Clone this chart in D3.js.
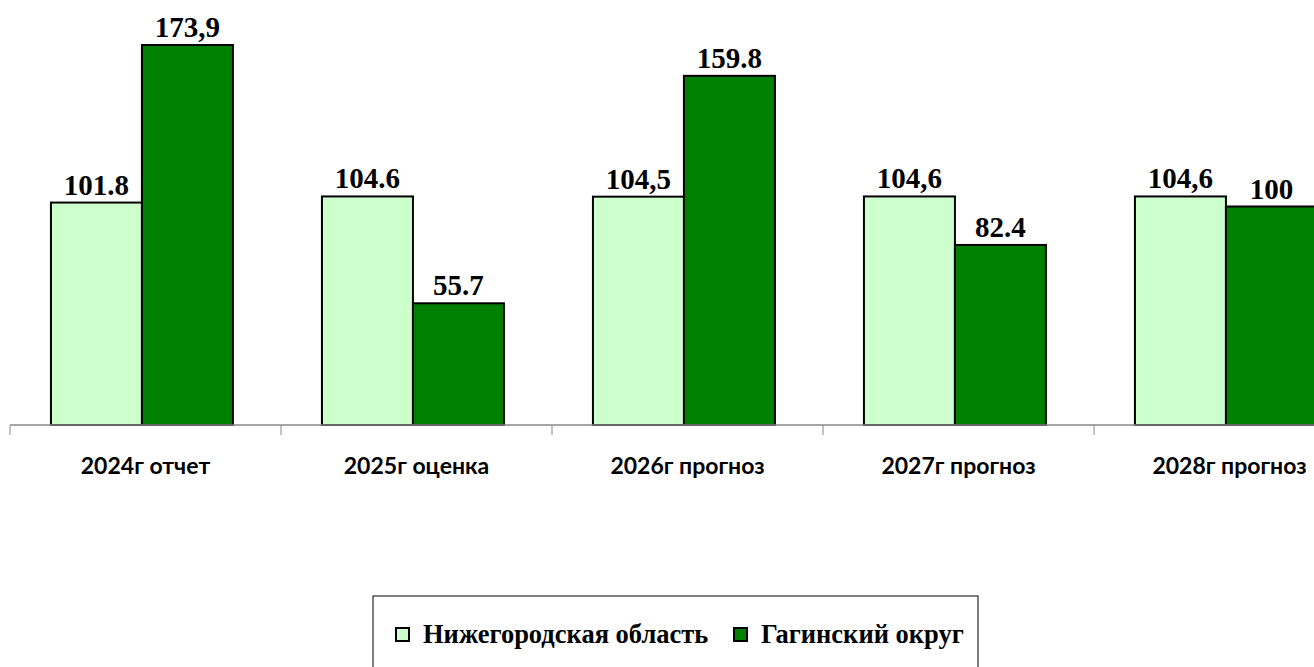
<!DOCTYPE html>
<html>
<head>
<meta charset="utf-8">
<script src="https://cdn.jsdelivr.net/npm/d3@7"></script>
<style>
  body { margin: 0; background: #fff; }
  svg { display: block; }
</style>
</head>
<body>
<svg id="chart"></svg>
<script>
// data
const categories = ['2024г отчет', '2025г оценка', '2026г прогноз', '2027г прогноз', '2028г прогноз'];
const seriesNames = ['Нижегородская область', 'Гагинский округ'];
const regionValues = [101.8, 104.6, 104.5, 104.6, 104.6];
const districtValues = [173.9, 55.7, 159.8, 82.4, 100];
// labels as printed (mix of commas and points in the original)
const regionLabels = ['101.8', '104.6', '104,5', '104,6', '104,6'];
const districtLabels = ['173,9', '55.7', '159.8', '82.4', '100'];

const colors = ['#ccffcc', '#008000'];

const width = 1314, height = 667;
const baseY = 425;

const svg = d3.select('#chart')
  .attr('width', width)
  .attr('height', height);

const x = d3.scaleBand()
  .domain(categories)
  .range([10, 10 + 271 * categories.length])
  .paddingInner(0).paddingOuter(0);

const xSub = d3.scaleBand()
  .domain(seriesNames)
  .range([0, x.bandwidth()])
  .paddingOuter(0.489)
  .align(0.46);

const y = d3.scaleLinear()
  .domain([0, 180])
  .range([baseY, baseY - 180 * 2.185]);

let data = [];
categories.forEach((c, i) => {
  data.push({ cat: c, series: seriesNames[0], value: regionValues[i], label: regionLabels[i], color: colors[0] });
  data.push({ cat: c, series: seriesNames[1], value: districtValues[i], label: districtLabels[i], color: colors[1] });
});

// bars
svg.append('g')
  .selectAll('rect')
  .data(data)
  .enter().append('rect')
    .attr('x', d => x(d.cat) + xSub(d.series))
    .attr('y', d => y(d.value))
    .attr('width', xSub.bandwidth())
    .attr('height', d => baseY - y(d.value))
    .attr('fill', d => d.color)
    .attr('stroke', '#000')
    .attr('stroke-width', 2);

// value labels
svg.append('g')
  .selectAll('text')
  .data(data)
  .enter().append('text')
    .attr('x', d => x(d.cat) + xSub(d.series) + xSub.bandwidth() / 2)
    .attr('y', d => y(d.value) - 8)
    .attr('text-anchor', 'middle')
    .style('font-family', '"Liberation Serif", "Times New Roman", serif')
    .style('font-weight', 'bold')
    .style('font-size', '29px')
    .text(d => d.label);

// category axis with ticks at band edges
const axisG = svg.append('g');
axisG.append('line')
  .attr('x1', x.range()[0]).attr('x2', x.range()[1])
  .attr('y1', baseY).attr('y2', baseY)
  .attr('stroke', '#888').attr('stroke-width', 1.5);

axisG.selectAll('.tick')
  .data(categories)
  .enter().append('line')
    .attr('class', 'tick')
    .attr('x1', d => x(d)).attr('x2', d => x(d))
    .attr('y1', baseY).attr('y2', baseY + 10)
    .attr('stroke', '#888').attr('stroke-width', 1);

axisG.selectAll('.cat')
  .data(categories)
  .enter().append('text')
    .attr('class', 'cat')
    .attr('x', d => x(d) + x.bandwidth() / 2)
    .attr('y', 474)
    .attr('text-anchor', 'middle')
    .style('font-family', 'Lato, "Open Sans", sans-serif')
    .style('font-weight', 'bold')
    .style('font-size', '23px')
    .text(d => d);

// legend
const legend = svg.append('g');
legend.append('rect')
  .attr('x', 373).attr('y', 596)
  .attr('width', 605).attr('height', 100)
  .attr('fill', 'none')
  .attr('stroke', '#000')
  .attr('stroke-width', 1);

const legendX = [396, 734];
const items = legend.selectAll('.item')
  .data(seriesNames)
  .enter().append('g')
    .attr('class', 'item')
    .attr('transform', (d, i) => `translate(${legendX[i]}, 628)`);

items.append('rect')
  .attr('width', 13).attr('height', 13)
  .attr('fill', (d, i) => colors[i])
  .attr('stroke', '#000')
  .attr('stroke-width', 2);

items.append('text')
  .attr('x', 27)
  .attr('y', 15)
  .style('font-family', '"Liberation Serif", "Times New Roman", serif')
  .style('font-weight', 'bold')
  .style('font-size', '26.5px')
  .text(d => d);
</script>
</body>
</html>
